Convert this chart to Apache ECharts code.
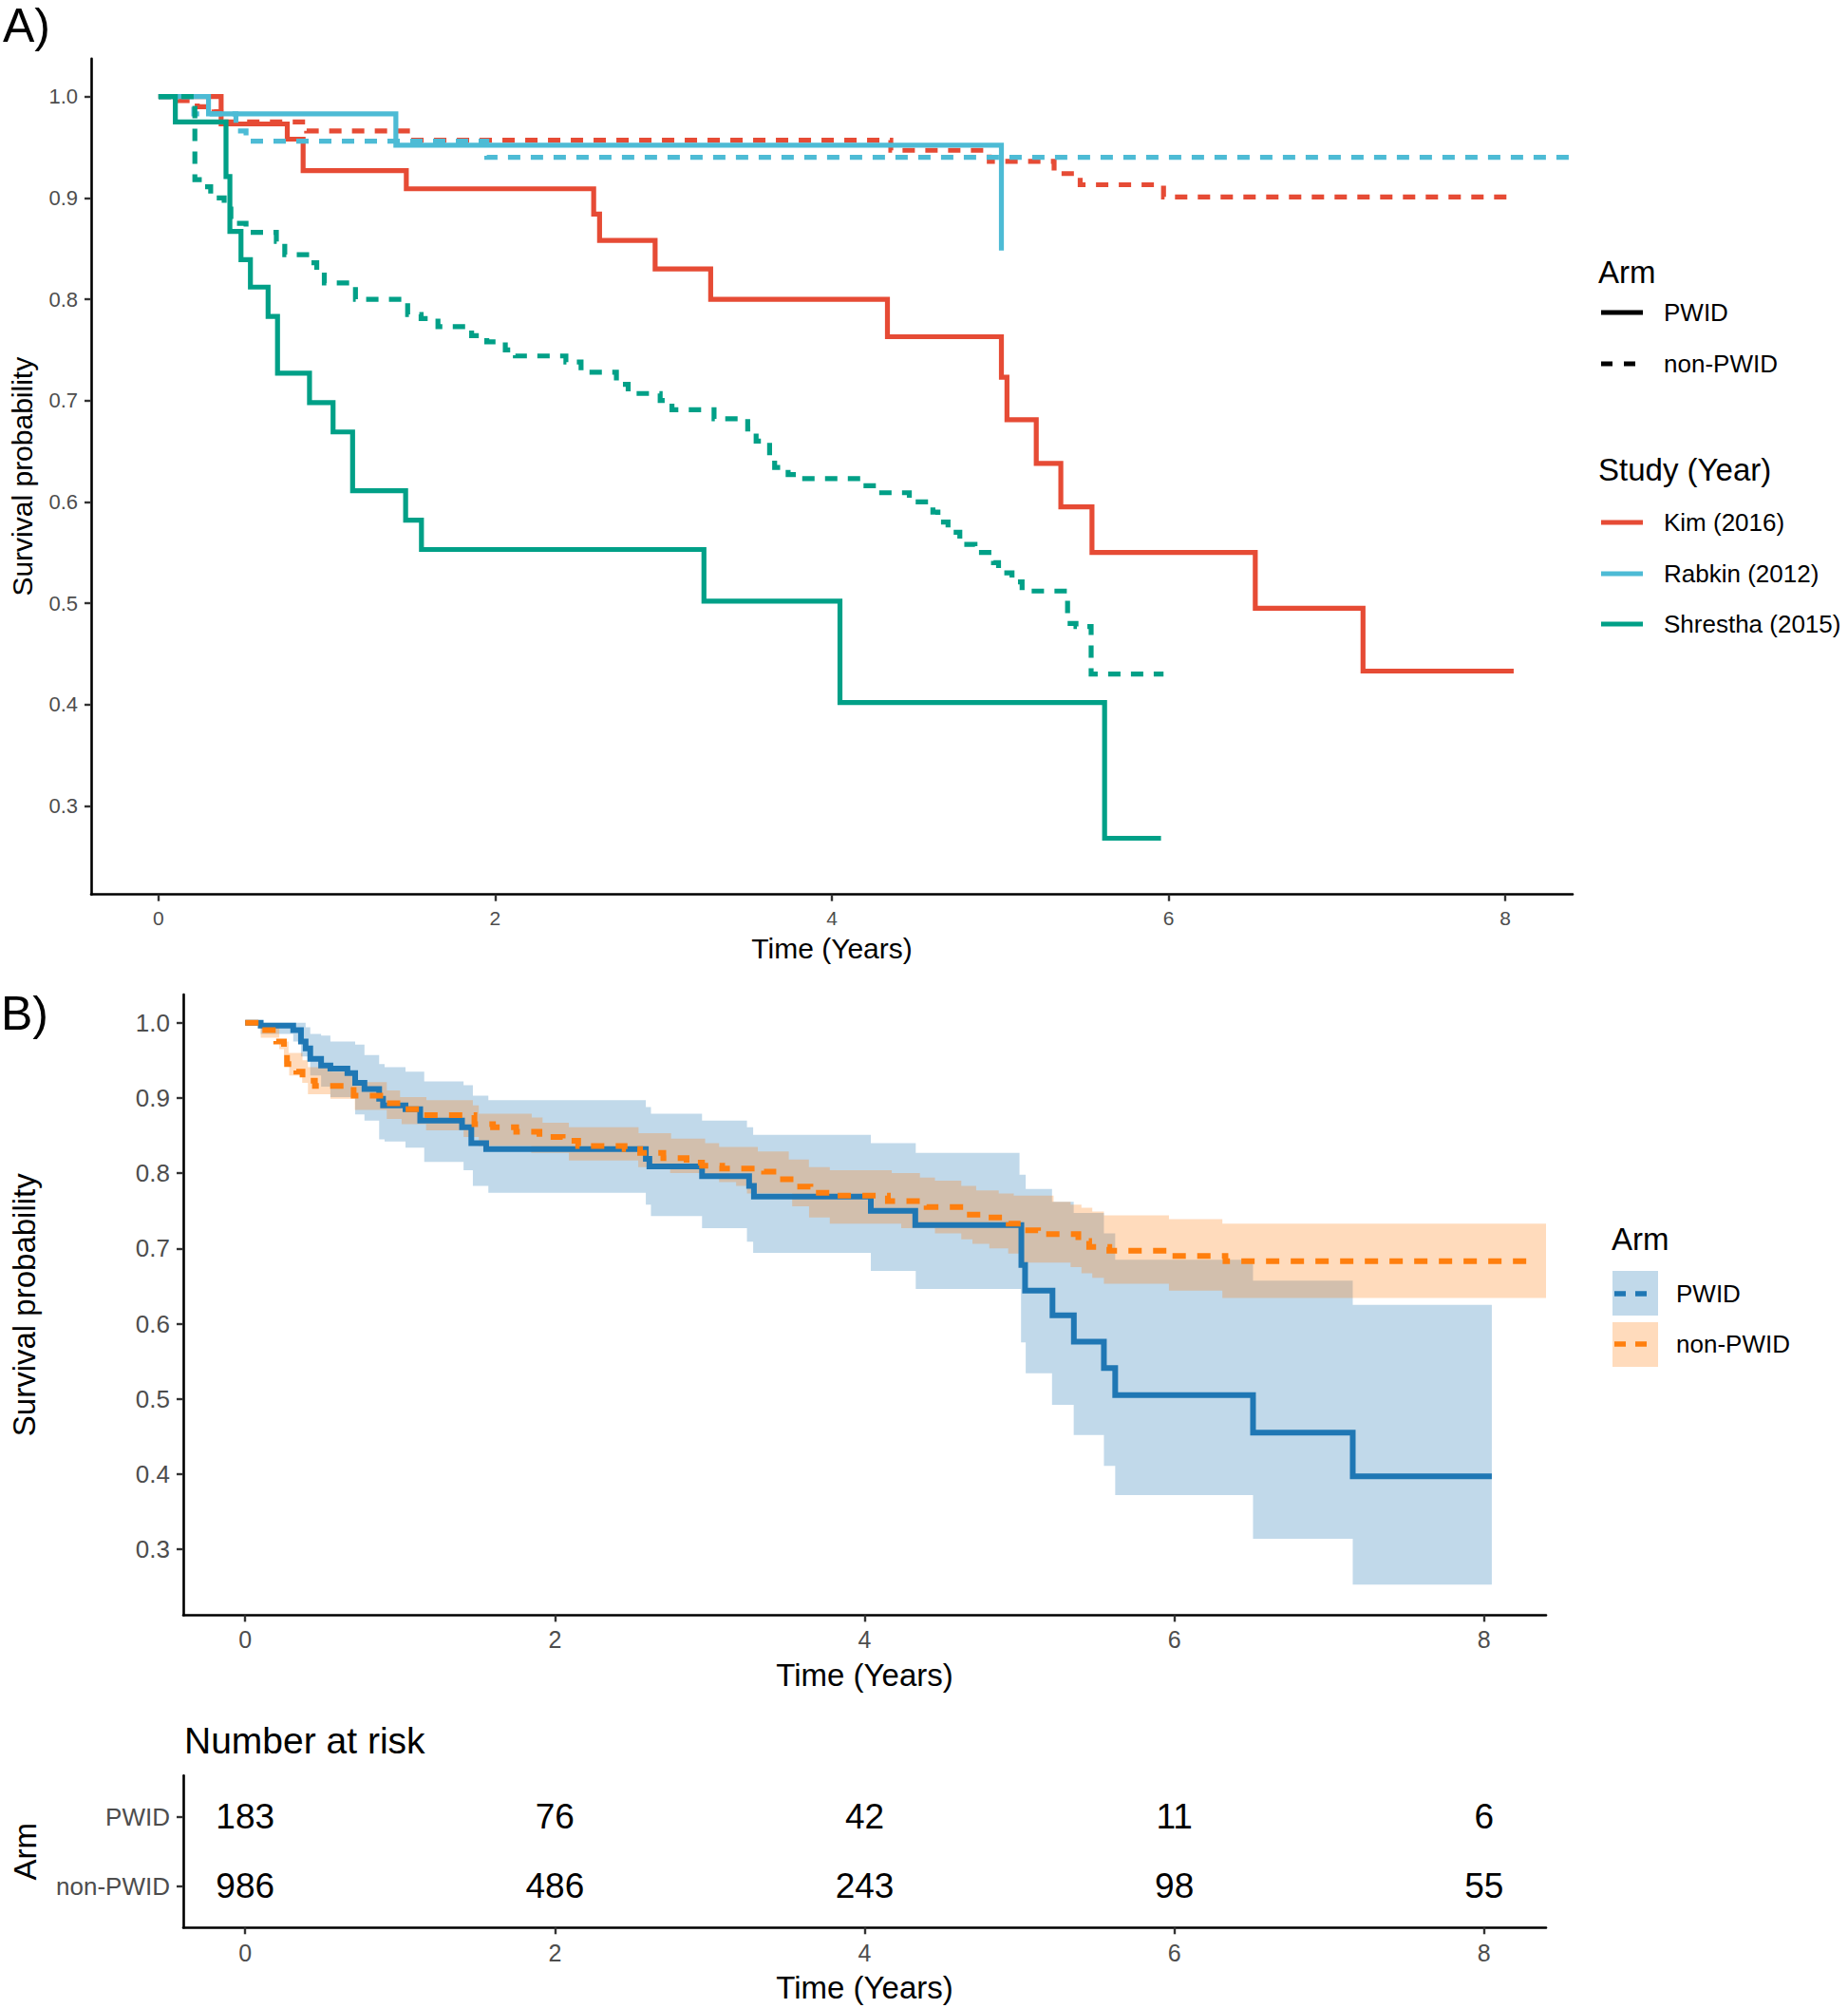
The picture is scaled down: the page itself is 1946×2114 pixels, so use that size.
<!DOCTYPE html>
<html><head><meta charset="utf-8">
<script src="https://cdn.jsdelivr.net/npm/echarts@6/dist/echarts.min.js"></script>
<style>html,body{margin:0;padding:0;background:#fff}#c{width:1946px;height:2114px}</style>
</head><body><div id="c"></div>
<script>
const FONT = '"Liberation Sans", Arial, Helvetica, sans-serif';

// ---------- Panel A: per-study Kaplan-Meier steps [time (years), survival] ----------
const kimPWID = [[0,1],[0.372,0.973],[0.765,0.958],[0.859,0.927],[1.472,0.909],[2.585,0.884],[2.62,0.858],[2.95,0.83],[3.28,0.80],[4.33,0.763],[5.007,0.723],[5.04,0.681],[5.214,0.638],[5.36,0.595],[5.545,0.55],[6.515,0.495],[7.155,0.433],[8.05,0.433]];
const kimNonPWID = [[0,1],[0.12,0.996],[0.23,0.99],[0.33,0.985],[0.37,0.975],[0.88,0.966],[1.5,0.957],[4.35,0.947],[4.935,0.936],[5.32,0.924],[5.475,0.913],[5.97,0.901],[8.01,0.901]];
const rabkinPWID = [[0,1],[0.297,0.983],[1.41,0.952],[5.007,0.848]];
const rabkinNonPWID = [[0,1],[0.21,0.983],[0.46,0.966],[0.52,0.956],[1.95,0.94],[8.4,0.94]];
const shresthaPWID = [[0,1],[0.10,0.975],[0.401,0.921],[0.424,0.867],[0.49,0.839],[0.546,0.812],[0.651,0.783],[0.707,0.727],[0.897,0.698],[1.037,0.669],[1.153,0.611],[1.468,0.582],[1.562,0.553],[3.24,0.502],[4.048,0.402],[5.62,0.268],[5.955,0.268]];
const shresthaNonPWID = [[0,1],[0.216,0.918],[0.27,0.911],[0.31,0.90],[0.39,0.889],[0.43,0.875],[0.52,0.866],[0.70,0.857],[0.75,0.844],[0.895,0.836],[0.94,0.828],[0.985,0.816],[1.17,0.80],[1.48,0.785],[1.56,0.781],[1.66,0.773],[1.86,0.764],[1.95,0.758],[2.06,0.75],[2.12,0.744],[2.42,0.738],[2.51,0.728],[2.72,0.716],[2.79,0.707],[2.98,0.70],[3.05,0.691],[3.3,0.682],[3.5,0.672],[3.55,0.66],[3.63,0.645],[3.66,0.634],[3.74,0.627],[3.8,0.623],[4.18,0.616],[4.27,0.609],[4.46,0.60],[4.6,0.59],[4.63,0.58],[4.69,0.57],[4.76,0.558],[4.85,0.55],[4.96,0.54],[4.99,0.53],[5.07,0.521],[5.13,0.512],[5.4,0.48],[5.45,0.477],[5.54,0.43],[5.97,0.43]];

// ---------- Panel B: pooled curves and confidence bands ----------
const pooledPWID = [[0,1],[0.10,0.996],[0.31,0.99],[0.36,0.975],[0.39,0.966],[0.42,0.952],[0.49,0.943],[0.55,0.939],[0.66,0.933],[0.71,0.92],[0.77,0.912],[0.865,0.899],[0.89,0.89],[1.035,0.885],[1.13,0.87],[1.40,0.861],[1.46,0.84],[1.556,0.832],[2.587,0.819],[2.61,0.809],[2.95,0.796],[3.254,0.783],[3.285,0.769],[4.04,0.75],[4.327,0.731],[5.012,0.678],[5.036,0.644],[5.213,0.611],[5.351,0.576],[5.545,0.541],[5.618,0.505],[6.508,0.455],[7.152,0.397],[8.05,0.397]];
const pooledPWIDUpper = [[0,1],[0.39,0.994],[0.42,0.985],[0.49,0.983],[0.55,0.975],[0.71,0.971],[0.77,0.957],[0.865,0.945],[0.9,0.941],[1.035,0.935],[1.156,0.922],[1.41,0.917],[1.47,0.903],[1.57,0.897],[2.587,0.888],[2.62,0.879],[2.95,0.87],[3.24,0.861],[3.28,0.851],[4.04,0.84],[4.33,0.827],[5.0,0.798],[5.04,0.779],[5.21,0.762],[5.35,0.747],[5.545,0.72],[5.618,0.685],[6.508,0.657],[7.152,0.625],[8.05,0.625]];
const pooledPWIDLower = [[0,1],[0.1,0.985],[0.31,0.975],[0.36,0.955],[0.42,0.93],[0.49,0.915],[0.55,0.901],[0.71,0.878],[0.77,0.87],[0.865,0.845],[0.9,0.842],[1.035,0.834],[1.156,0.815],[1.41,0.804],[1.47,0.783],[1.57,0.774],[2.587,0.758],[2.62,0.743],[2.95,0.727],[3.24,0.709],[3.28,0.694],[4.04,0.67],[4.33,0.646],[5.01,0.575],[5.04,0.534],[5.21,0.492],[5.35,0.452],[5.545,0.411],[5.618,0.372],[6.508,0.314],[7.152,0.253],[8.05,0.253]];
const pooledNonPWID = [[0,1],[0.11,0.99],[0.2,0.975],[0.25,0.962],[0.27,0.945],[0.33,0.935],[0.37,0.923],[0.45,0.916],[0.7,0.903],[0.9,0.893],[1.03,0.885],[1.15,0.877],[1.48,0.865],[1.6,0.861],[1.75,0.855],[1.9,0.848],[2.05,0.843],[2.15,0.836],[2.45,0.832],[2.55,0.827],[2.7,0.82],[2.85,0.814],[2.95,0.81],[3.08,0.806],[3.35,0.802],[3.45,0.792],[3.55,0.782],[3.65,0.774],[3.78,0.77],[4.15,0.763],[4.4,0.755],[4.65,0.745],[4.8,0.741],[4.93,0.733],[5.03,0.724],[5.12,0.719],[5.38,0.71],[5.45,0.702],[5.58,0.697],[5.93,0.69],[6.33,0.683],[8.33,0.683]];
const pooledNonPWIDUpper = [[0,1],[0.1,0.995],[0.22,0.975],[0.28,0.96],[0.37,0.95],[0.405,0.941],[0.56,0.935],[0.708,0.921],[0.914,0.91],[1.0,0.901],[1.17,0.897],[1.47,0.89],[1.508,0.879],[1.85,0.874],[1.92,0.867],[2.09,0.861],[2.54,0.853],[2.75,0.846],[2.97,0.84],[3.06,0.835],[3.31,0.829],[3.51,0.818],[3.64,0.808],[3.775,0.804],[4.175,0.80],[4.357,0.794],[4.454,0.79],[4.624,0.783],[4.72,0.777],[4.866,0.773],[4.963,0.77],[5.22,0.762],[5.33,0.758],[5.40,0.754],[5.47,0.749],[5.545,0.744],[5.965,0.739],[6.31,0.733],[8.41,0.733]];
const pooledNonPWIDLower = [[0,1],[0.1,0.98],[0.22,0.965],[0.25,0.945],[0.284,0.93],[0.368,0.92],[0.405,0.905],[0.55,0.899],[0.708,0.884],[0.914,0.872],[1.01,0.865],[1.168,0.857],[1.41,0.848],[1.508,0.836],[1.847,0.827],[2.09,0.817],[2.538,0.808],[2.744,0.80],[2.95,0.794],[3.06,0.788],[3.17,0.783],[3.24,0.773],[3.532,0.756],[3.641,0.741],[3.775,0.733],[4.236,0.727],[4.454,0.72],[4.624,0.712],[4.696,0.706],[4.805,0.70],[4.927,0.693],[5.0,0.681],[5.33,0.675],[5.4,0.667],[5.47,0.661],[5.545,0.653],[5.965,0.644],[6.31,0.634],[8.41,0.634]];

// ---------- Risk table ----------
const riskTimes = [0,2,4,6,8];
const riskPWID = [183,76,42,11,6];
const riskNonPWID = [986,486,243,98,55];
const armRows = ['non-PWID','PWID'];

// ---------- Ticks ----------
const timeTicks = [0,2,4,6,8];
const survTicks = [0.3,0.4,0.5,0.6,0.7,0.8,0.9,1.0];

const C_KIM='#E64B35', C_RAB='#4DBBD5', C_SHR='#00A087', C_PWID='#1F77B4', C_NON='#FF7F0E';
const F_PWID='rgba(31,119,180,0.28)', F_NON='rgba(255,127,14,0.28)';

function xAx(gi, fs, margin, name, gap, nfs){
  return {type:'value', gridIndex:gi, min:-0.4, max:8.4,
    axisLine:{show:true,onZero:false,lineStyle:{color:'#000',width:2.6}},
    axisTick:{show:true,customValues:timeTicks,length:7,lineStyle:{color:'#333',width:2.4}},
    axisLabel:{show:true,customValues:timeTicks,fontSize:fs,color:'#4d4d4d',margin:margin,fontFamily:FONT},
    splitLine:{show:false},
    name:name, nameLocation:'middle', nameGap:gap, nameTextStyle:{fontSize:nfs,color:'#000',fontFamily:FONT}};
}
function yAx(gi, fs, margin, name, gap, nfs){
  return {type:'value', gridIndex:gi, min:0.2125, max:1.0375,
    axisLine:{show:true,onZero:false,lineStyle:{color:'#000',width:2.6}},
    axisTick:{show:true,customValues:survTicks,length:7,lineStyle:{color:'#333',width:2.4}},
    axisLabel:{show:true,customValues:survTicks,fontSize:fs,color:'#4d4d4d',margin:margin,fontFamily:FONT,formatter:v=>Number(v).toFixed(1)},
    splitLine:{show:false},
    name:name, nameLocation:'middle', nameGap:gap, nameTextStyle:{fontSize:nfs,color:'#000',fontFamily:FONT}};
}
function km(data,color,dash,w,ai){
  return {type:'line',xAxisIndex:ai,yAxisIndex:ai,data:data,step:'end',showSymbol:false,symbol:'none',silent:true,clip:true,
    lineStyle:{color:color,width:w,type:dash?dash:'solid',cap:'butt',join:'miter'}};
}
function stepPts(arr){
  const out=[];
  for(let i=0;i<arr.length;i++){
    out.push(arr[i]);
    if(i+1<arr.length) out.push([arr[i+1][0],arr[i][1]]);
  }
  return out;
}
function ribbon(upper,lower,fill){
  return {type:'custom',xAxisIndex:1,yAxisIndex:1,silent:true,clip:true,data:[[0,1]],encode:{x:0,y:1},
    renderItem:function(params,api){
      const pts=[];
      stepPts(upper).forEach(p=>pts.push(api.coord(p)));
      stepPts(lower).reverse().forEach(p=>pts.push(api.coord(p)));
      return {type:'polygon',shape:{points:pts},style:{fill:fill}};
    }};
}
const riskData = riskTimes.map((t,i)=>[t,2,riskPWID[i]]).concat(riskTimes.map((t,i)=>[t,1,riskNonPWID[i]]));

const dashA=[13,11], dashB=[14,12];
const T = (x,y,text,fs,extra)=>Object.assign({type:'text',x:x,y:y,style:{text:text,fontSize:fs,fontFamily:FONT,fill:'#000',verticalAlign:'middle',align:'left'}},extra||{});
const L = (x1,x2,y,color,dash,w)=>({type:'line',shape:{x1:x1,y1:y,x2:x2,y2:y},style:{stroke:color,lineWidth:w||5,lineDash:dash||null}});

const option = {
  animation:false,
  backgroundColor:'#fff',
  grid:[
    {left:96, top:61.7, width:1560, height:880},
    {left:193, top:1047, width:1435, height:653.4},
    {left:193, top:1869.3, width:1435, height:160}
  ],
  xAxis:[
    xAx(0,21,14,'Time (Years)',42,30),
    xAx(1,25,13,'Time (Years)',47,33),
    xAx(2,25,14,'Time (Years)',47,33)
  ],
  yAxis:[
    yAx(0,22,14,'Survival probability',58,30),
    yAx(1,26,14,'Survival probability',151,33),
    {type:'value',gridIndex:2,min:0.4,max:2.6,
      axisLine:{show:true,onZero:false,lineStyle:{color:'#000',width:2.6}},
      axisTick:{show:true,customValues:[1,2],length:7,lineStyle:{color:'#333',width:2.4}},
      axisLabel:{show:true,customValues:[1,2],fontSize:26,color:'#4d4d4d',margin:14,fontFamily:FONT,formatter:v=>armRows[Math.round(v)-1]},
      splitLine:{show:false},
      name:'Arm',nameLocation:'middle',nameGap:150,nameTextStyle:{fontSize:33,color:'#000',fontFamily:FONT}}
  ],
  series:[
    km(kimPWID,C_KIM,null,5.2,0),
    km(kimNonPWID,C_KIM,dashA,5.2,0),
    km(rabkinPWID,C_RAB,null,5.2,0),
    km(rabkinNonPWID,C_RAB,dashA,5.2,0),
    km(shresthaPWID,C_SHR,null,5.2,0),
    km(shresthaNonPWID,C_SHR,dashA,5.2,0),
    km(pooledPWID,C_PWID,null,6,1),
    km(pooledNonPWID,C_NON,dashB,6,1),
    ribbon(pooledPWIDUpper,pooledPWIDLower,F_PWID),
    ribbon(pooledNonPWIDUpper,pooledNonPWIDLower,F_NON),
    {type:'custom',xAxisIndex:2,yAxisIndex:2,silent:true,data:riskData,encode:{x:0,y:1},
      renderItem:function(params,api){
        const p=api.coord([api.value(0),api.value(1)]);
        return {type:'text',x:p[0],y:p[1],style:{text:String(api.value(2)),fontSize:37,fontFamily:FONT,fill:'#000',align:'center',verticalAlign:'middle'}};
      }}
  ],
  graphic:[
    T(3,27,'A)',50),
    T(1,1067,'B)',50),
    T(194,1832,'Number at risk',39),
    // Legend A
    T(1683,286,'Arm',33),
    L(1686,1730,329,'#000'),
    T(1752,329,'PWID',26),
    L(1686,1730,383,'#000',[12,12]),
    T(1752,383,'non-PWID',26),
    T(1683,494,'Study (Year)',33),
    L(1686,1730,550,C_KIM),
    T(1752,550,'Kim (2016)',26),
    L(1686,1730,604,C_RAB),
    T(1752,604,'Rabkin (2012)',26),
    L(1686,1730,657,C_SHR),
    T(1752,657,'Shrestha (2015)',26),
    // Legend B
    T(1697,1304,'Arm',33),
    {type:'rect',shape:{x:1698,y:1338,width:48,height:47},style:{fill:F_PWID}},
    L(1700,1744,1362,C_PWID,[12,10],5.5),
    T(1765,1362,'PWID',26),
    {type:'rect',shape:{x:1698,y:1392,width:48,height:47},style:{fill:F_NON}},
    L(1700,1744,1415,C_NON,[12,10],5.5),
    T(1765,1415,'non-PWID',26)
  ]
};
const chart = echarts.init(document.getElementById('c'),null,{renderer:'svg',width:1946,height:2114});
chart.setOption(option);
</script></body></html>
